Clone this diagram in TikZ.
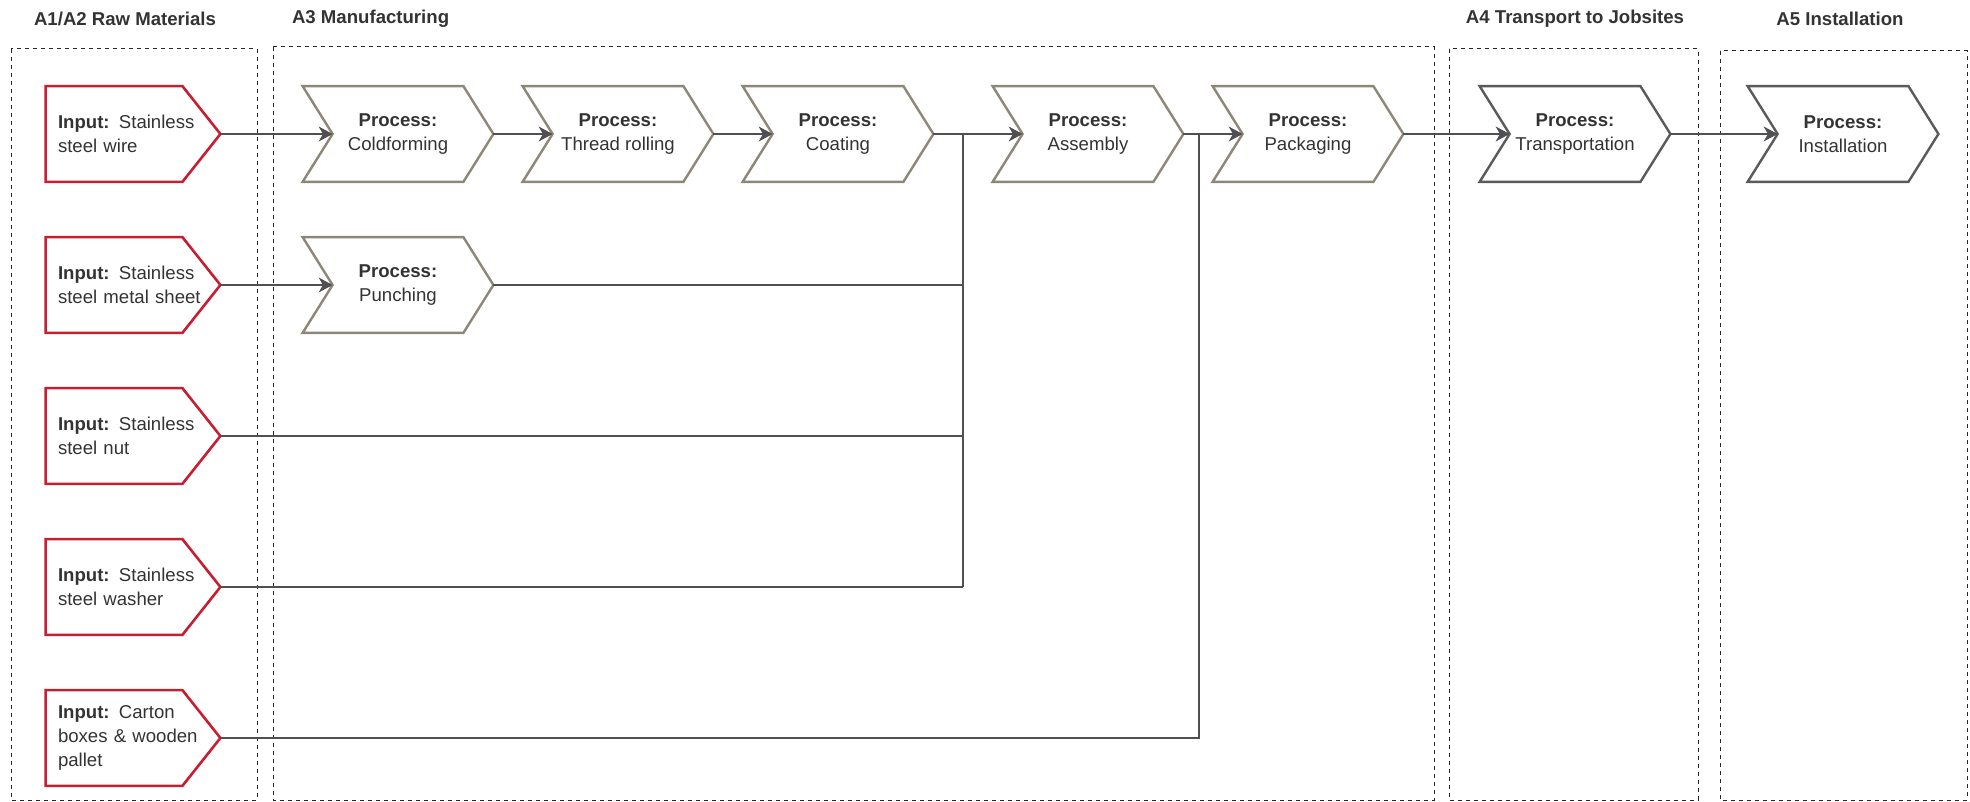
\documentclass[tikz,border=0pt]{standalone}
\usepackage{fontspec}
\setmainfont{Liberation Sans}
\usetikzlibrary{arrows.meta}
\definecolor{inred}{RGB}{200,30,50}
\definecolor{procgray}{RGB}{140,135,118}
\definecolor{stagegray}{RGB}{90,90,90}
\definecolor{linegray}{RGB}{80,80,84}
\definecolor{txt}{RGB}{51,51,51}
\begin{document}
\begin{tikzpicture}[x=0.5pt,y=-0.5pt,
  every node/.style={font=\fontsize{9.3}{11.8}\selectfont,text=txt},
  title/.style={font=\fontsize{9.3}{11.8}\selectfont\bfseries},
  input/.style={text width=75pt,inner xsep=6pt,inner ysep=0pt,minimum height=47.5pt,align=left},
  proc/.style={minimum width=95pt,minimum height=47.5pt,inner sep=0pt,align=center},
  stagebox/.style={draw=black!85,line width=0.5pt,dash pattern=on 2pt off 2pt},
  conn/.style={draw=linegray,line width=0.6pt,-{Stealth[length=7pt,width=7.5pt,inset=2.2pt]}},
  bus/.style={draw=linegray,line width=0.6pt}]
\useasboundingbox (0,0) rectangle (1970,802);
%stages
\draw[stagebox] (11,49) rectangle (257,800);
\draw[stagebox] (273,47) rectangle (1434,800);
\draw[stagebox] (1449,49) rectangle (1698,800);
\draw[stagebox] (1720,51) rectangle (1967,800);
\node[title,anchor=west] (tA) at (27,19) {A1/A2 Raw Materials};
\node[title,anchor=west] (tB) at (285,19) {A3 Manufacturing};
\node[title] (tC) at (1575,19) {A4 Transport to Jobsites};
\node[title] (tD) at (1840,19) {A5 Installation};
%
%inputs
\node[input] (wire) at (133,134) {\textbf{Input:} Stainless\\steel wire};
\node[input] (sheet) at (133,285) {\textbf{Input:} Stainless\\steel metal sheet};
\node[input] (nut) at (133,436) {\textbf{Input:} Stainless\\steel nut};
\node[input] (washer) at (133,587) {\textbf{Input:} Stainless\\steel washer};
\node[input] (carton) at (133,738) {\textbf{Input:} Carton\\boxes \& wooden\\pallet};
\foreach \n in {wire,sheet,nut,washer,carton}
  \draw[inred,line width=1.3pt] (\n.north west)--([xshift=-19pt]\n.north east)--(\n.east)
    --([xshift=-19pt]\n.south east)--(\n.south west)--cycle;
%
%processes
\node[proc] (cold) at (398,134) {\textbf{Process:}\\Coldforming};
\node[proc] (thread) at (618,134) {\textbf{Process:}\\Thread rolling};
\node[proc] (coat) at (838,134) {\textbf{Process:}\\Coating};
\node[proc] (punch) at (398,285) {\textbf{Process:}\\Punching};
\node[proc] (assy) at (1088,134) {\textbf{Process:}\\Assembly};
\node[proc] (pack) at (1308,134) {\textbf{Process:}\\Packaging};
\node[proc] (trans) at (1575,134) {\textbf{Process:}\\Transportation};
\node[proc] (inst) at (1843,134) {\textbf{Process:}\\Installation};
\foreach \n/\c in {cold/procgray,thread/procgray,coat/procgray,punch/procgray,
    assy/procgray,pack/procgray,trans/stagegray,inst/stagegray}
  \draw[\c,line width=1.2pt] (\n.north west)--([xshift=-15pt]\n.north east)--(\n.east)
    --([xshift=-15pt]\n.south east)--(\n.south west)--([xshift=15pt]\n.west)--cycle;
%
%flows
\coordinate (busA) at (963,134);
\coordinate (busB) at (1199,134);
\draw[conn] (wire.east)--([xshift=15pt]cold.west);
\draw[conn] (sheet.east)--([xshift=15pt]punch.west);
\draw[conn] (cold.east)--([xshift=15pt]thread.west);
\draw[conn] (thread.east)--([xshift=15pt]coat.west);
\draw[conn] (coat.east)--([xshift=15pt]assy.west);
\draw[bus] (busA)--(busA|-washer.east);
\draw[bus] (punch.east)--(punch.east-|busA);
\draw[bus] (nut.east)--(nut.east-|busA);
\draw[bus] (washer.east)--(washer.east-|busA);
\draw[conn] (assy.east)--([xshift=15pt]pack.west);
\draw[bus] (carton.east)-|(busB);
\draw[conn] (pack.east)--([xshift=15pt]trans.west);
\draw[conn] (trans.east)--([xshift=15pt]inst.west);
\end{tikzpicture}
\end{document}
